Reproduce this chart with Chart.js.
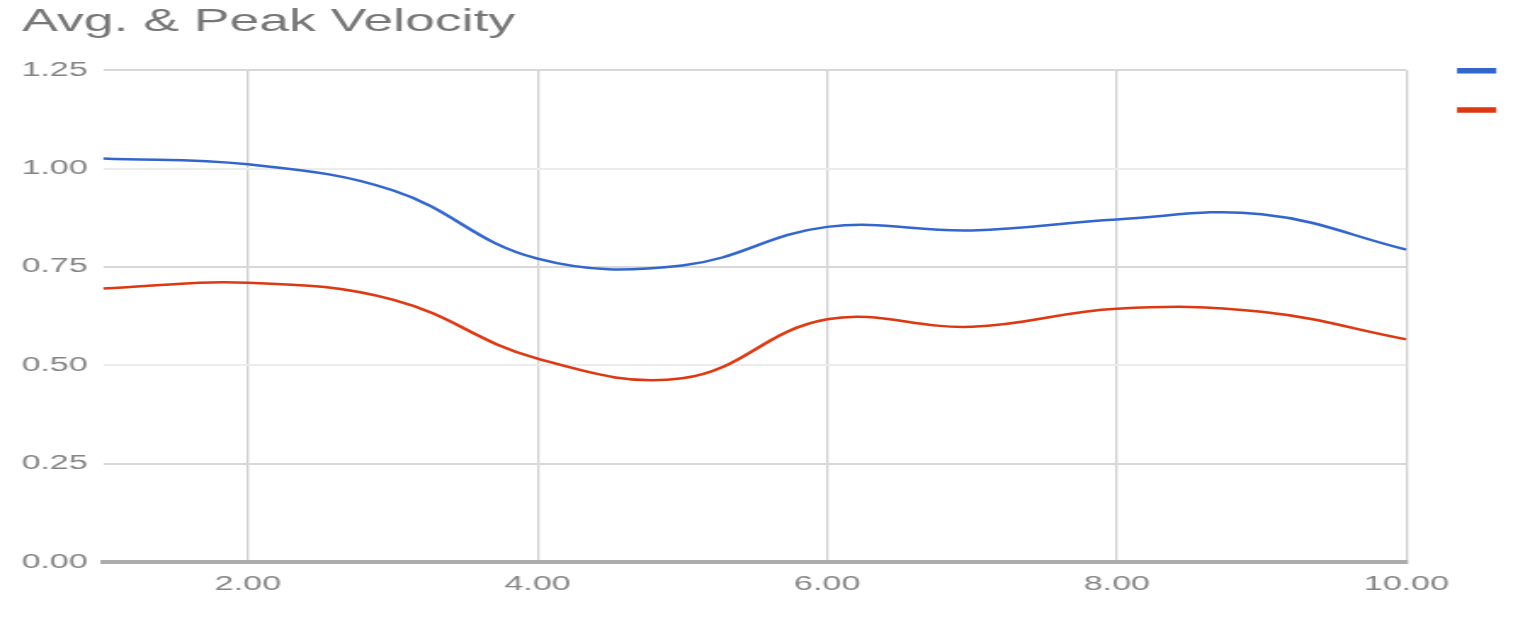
<!DOCTYPE html>
<html>
<head>
<meta charset="utf-8">
<title>Avg. & Peak Velocity</title>
<script src="https://cdn.jsdelivr.net/npm/chart.js@4.4.1/dist/chart.umd.min.js"></script>
<style>
    html, body { margin: 0; padding: 0; background: #fff; overflow: hidden; }
    /* the reference is a horizontally stretched chart, so draw narrow and stretch */
    #stretch { width: 895.3px; height: 626px; transform: scaleX(1.7); transform-origin: 0 0; }
</style>
</head>
<body>
<div id="stretch"><canvas id="velocityChart"></canvas></div>
<script>
const xValues = [1, 2, 3, 4, 5, 6, 7, 8, 9, 10];
const peakVelocity = [1.026, 1.011, 0.945, 0.771, 0.754, 0.852, 0.843, 0.871, 0.884, 0.794];
const avgVelocity = [0.695, 0.710, 0.667, 0.517, 0.467, 0.617, 0.598, 0.644, 0.636, 0.566];
const xTicks = [2, 4, 6, 8, 10];
const yTicks = [0, 0.25, 0.5, 0.75, 1, 1.25];

const toPoints = function (values) {
    return values.map(function (v, i) { return { x: xValues[i], y: v }; });
};

document.addEventListener('DOMContentLoaded', function () {
    const ctx = document.getElementById('velocityChart').getContext('2d');
    const velocityChart = new Chart(ctx, {
        type: 'line',
        data: {
            datasets: [{
                label: '',
                data: toPoints(peakVelocity),
                borderColor: '#3366cc',
                backgroundColor: '#3366cc',
                borderWidth: 2.5,
                pointRadius: 0,
                tension: 0.4,
                fill: false
            }, {
                label: '',
                data: toPoints(avgVelocity),
                borderColor: '#dc3912',
                backgroundColor: '#dc3912',
                borderWidth: 2.5,
                pointRadius: 0,
                tension: 0.4,
                fill: false
            }]
        },
        options: {
            responsive: true,
            maintainAspectRatio: false,
            animation: false,
            layout: { padding: { left: 13, right: 2.3, top: 0, bottom: 0 } },
            plugins: {
                title: {
                    display: true,
                    text: 'Avg. & Peak Velocity',
                    align: 'start',
                    color: '#777777',
                    font: { family: "'Liberation Sans', Arial, sans-serif", size: 31.5, weight: 'normal', lineHeight: 1.2 },
                    padding: { top: 3.5, bottom: 29 }
                },
                legend: {
                    position: 'right',
                    align: 'start',
                    title: {
                        display: true,
                        text: ' ',
                        font: { size: 10, lineHeight: 1.2 },
                        padding: { top: 23.7, bottom: 0 }
                    },
                    labels: {
                        boxWidth: 20.6,
                        boxHeight: 3,
                        padding: 31,
                        font: { size: 8.2 }
                    }
                },
                tooltip: { enabled: false }
            },
            scales: {
                x: {
                    type: 'linear',
                    min: 1,
                    max: 10,
                    afterBuildTicks: function (scale) {
                        scale.ticks = xTicks.map(function (v) { return { value: v }; });
                    },
                    afterFit: function (scale) { scale.height = 64; },
                    grid: { color: '#cfcfcf', lineWidth: 1.3, drawTicks: false },
                    border: { display: true, color: '#acacac', width: 4 },
                    ticks: {
                        autoSkip: false,
                        maxRotation: 0,
                        padding: 10,
                        color: '#858585',
                        font: { family: "'Liberation Sans', Arial, sans-serif", size: 20 },
                        callback: function (v) { return Number(v).toFixed(2); }
                    }
                },
                y: {
                    min: 0,
                    max: 1.25,
                    afterBuildTicks: function (scale) {
                        scale.ticks = yTicks.map(function (v) { return { value: v }; });
                    },
                    afterFit: function (scale) { scale.width = 47.6; },
                    grid: {
                        drawTicks: false,
                        lineWidth: 2,
                        color: function (c) {
                            if (!c.tick || c.tick.value === 0) return 'rgba(0,0,0,0)';
                            return Math.round(c.tick.value * 4) % 2 === 1 ? '#d8d8d8' : '#ececec';
                        }
                    },
                    border: { display: false },
                    ticks: {
                        padding: 9,
                        color: '#858585',
                        font: { family: "'Liberation Sans', Arial, sans-serif", size: 20 },
                        callback: function (v) { return Number(v).toFixed(2); }
                    }
                }
            }
        }
    });
});
</script>
</body>
</html>
